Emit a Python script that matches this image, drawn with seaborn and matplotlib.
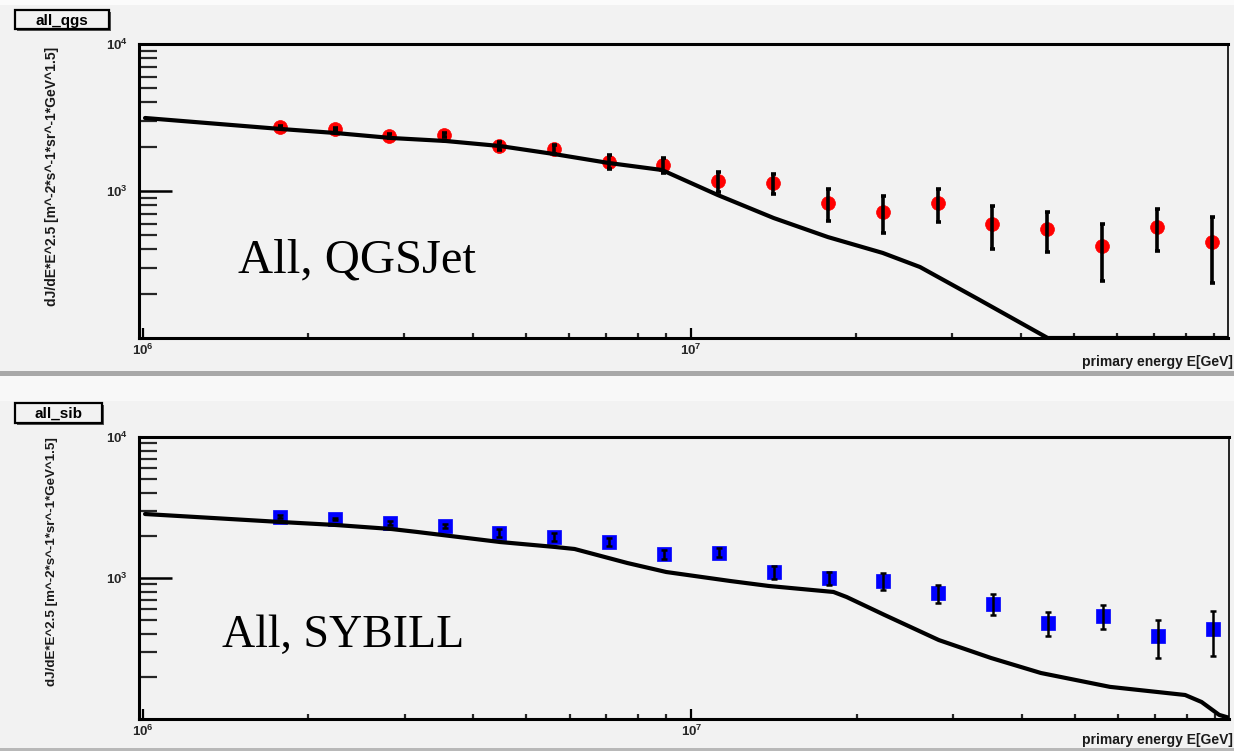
import numpy as np
import pandas as pd
import matplotlib
matplotlib.use("Agg")
import matplotlib.pyplot as plt
import seaborn as sns
from matplotlib.ticker import FixedLocator, FixedFormatter, NullFormatter
from matplotlib.patches import Rectangle

# ---- data -----------------------------------------------------------------
# log10(E / GeV) bin centres of the measured all-particle spectrum
log_energy = [6.25, 6.35, 6.45, 6.55, 6.65, 6.75, 6.85, 6.95, 7.05,
              7.15, 7.25, 7.35, 7.45, 7.55, 7.65, 7.75, 7.85, 7.95]

# QGSJet unfolding: dJ/dE * E^2.5 and its uncertainty
qgs_flux = [2725, 2641, 2367, 2404, 2024, 1931, 1575, 1503, 1170,
            1133, 829, 720, 829, 596, 551, 422, 569, 450]
qgs_err = [60, 60, 70, 70, 130, 140, 170, 180, 180,
           180, 200, 200, 210, 195, 165, 177, 180, 215]

# QGSJet model curve (log10 E, flux)
qgs_model_logE = [6.004, 6.252, 6.352, 6.453, 6.553, 6.651, 6.75, 6.85, 6.947,
                  7.049, 7.151, 7.25, 7.35, 7.418, 7.524, 7.651, 7.98]
qgs_model_flux = [3138, 2641, 2480, 2294, 2188, 2024, 1785, 1551, 1390,
                  939, 655, 486, 379, 304, 184, 100, 100]

# SIBYLL unfolding
sib_flux = [2721, 2620, 2455, 2350, 2085, 1953, 1800, 1480, 1512,
            1097, 1000, 952, 779, 654, 482, 538, 388, 433]
sib_err = [60, 60, 70, 70, 140, 130, 110, 110, 110,
           115, 105, 125, 110, 110, 93, 104, 115, 155]

# SIBYLL model curve
sib_model_logE = [6.004, 6.252, 6.352, 6.453, 6.5, 6.651, 6.752, 6.787, 6.883,
                  6.954, 7.071, 7.141, 7.259, 7.283, 7.352, 7.451, 7.546, 7.637,
                  7.763, 7.9, 7.93, 7.962, 7.98]
sib_model_flux = [2843, 2495, 2376, 2226, 2121, 1800, 1659, 1606, 1278,
                  1103, 952, 878, 796, 733, 547, 363, 271, 212,
                  169, 148, 132, 107, 102]

x_ticklabels = ["$\\mathbf{10^{6}}$", "$\\mathbf{10^{7}}$"]
y_ticklabels = ["$\\mathbf{10^{3}}$", "$\\mathbf{10^{4}}$"]
y_title = "dJ/dE*E^2.5 [m^-2*s^-1*sr^-1*GeV^1.5]"
x_title = "primary energy E[GeV]"

# ---- style ----------------------------------------------------------------
BG = "#f2f2f2"
sns.set_theme(style="white")
plt.rcParams["font.family"] = ["Liberation Sans", "DejaVu Sans"]
plt.rcParams["mathtext.fontset"] = "custom"
plt.rcParams["mathtext.rm"] = "Liberation Sans"
plt.rcParams["mathtext.bf"] = "Liberation Sans:bold"

W, H = 1234, 751
fig = plt.figure(figsize=(W / 100, H / 100), dpi=100, facecolor=BG)


def fx(px):
    return px / W


def fy(py):
    return 1 - py / H


# pad decorations
fig.patches.append(Rectangle((0, fy(5)), 1, 5 / H, transform=fig.transFigure,
                             facecolor="#fbfbfb", edgecolor="none", zorder=0))
fig.patches.append(Rectangle((0, fy(376)), 1, 5 / H, transform=fig.transFigure,
                             facecolor="#a8a8a8", edgecolor="none", zorder=0))
fig.patches.append(Rectangle((0, fy(401)), 1, 25 / H, transform=fig.transFigure,
                             facecolor="#f8f8f8", edgecolor="none", zorder=0))
fig.patches.append(Rectangle((0, fy(751)), 1, 3 / H, transform=fig.transFigure,
                             facecolor="#b8b8b8", edgecolor="none", zorder=0))


def title_box(x0, x1, y0, y1, label):
    fig.patches.append(Rectangle((fx(x0 + 2), fy(y1 + 2)), (x1 - x0) / W, (y1 - y0) / H,
                                 transform=fig.transFigure, facecolor="#555555",
                                 edgecolor="none", zorder=1))
    fig.patches.append(Rectangle((fx(x0), fy(y1)), (x1 - x0) / W, (y1 - y0) / H,
                                 transform=fig.transFigure, facecolor=BG,
                                 edgecolor="black", linewidth=1.6, zorder=2))
    fig.text(fx((x0 + x1) / 2), fy((y0 + y1) / 2 + 1), label, ha="center", va="center",
             fontsize=11, fontweight="bold", color="black", zorder=3)


def make_panel(rect, flux, err, model_logE, model_flux, marker, color, msize,
               elw, cap, big_text, big_xy, big_size):
    ax = fig.add_axes(rect, facecolor=BG)
    ax.set_xscale("log")
    ax.set_yscale("log")

    energy = [10 ** v for v in log_energy]
    model_energy = [10 ** v for v in model_logE]
    pts = pd.DataFrame({"E": energy, "flux": flux})
    curve = pd.DataFrame({"E": model_energy, "flux": model_flux})

    sns.scatterplot(data=pts, x="E", y="flux", ax=ax, marker=marker, s=msize,
                    color=color, edgecolor=color, linewidth=0.5, zorder=2)
    sns.lineplot(data=curve, x="E", y="flux", ax=ax, color="black", linewidth=3.0,
                 sort=False, estimator=None, zorder=3)
    ax.errorbar(energy, flux, yerr=err, fmt="none", ecolor="black",
                elinewidth=elw, capsize=cap, capthick=elw, zorder=4)

    ax.set_xlim(9.84e5, 9.55e7)
    ax.set_ylim(1e2, 1e4)

    ax.xaxis.set_major_locator(FixedLocator([1e6, 1e7]))
    ax.xaxis.set_major_formatter(FixedFormatter(x_ticklabels))
    ax.xaxis.set_minor_locator(FixedLocator([k * 1e6 for k in range(2, 10)] +
                                            [k * 1e7 for k in range(2, 10)]))
    ax.xaxis.set_minor_formatter(NullFormatter())
    ax.yaxis.set_major_locator(FixedLocator([1e3, 1e4]))
    ax.yaxis.set_major_formatter(FixedFormatter(y_ticklabels))
    ax.yaxis.set_minor_locator(FixedLocator([k * 1e2 for k in range(2, 10)] +
                                            [k * 1e3 for k in range(2, 10)]))
    ax.yaxis.set_minor_formatter(NullFormatter())

    ax.tick_params(axis="x", which="major", direction="in", length=7, width=1.6,
                   bottom=True, top=False, labelsize=9.5, pad=3.5, color="black")
    ax.tick_params(axis="x", which="minor", direction="in", length=3.6, width=1.6,
                   bottom=True, top=False)
    ax.tick_params(axis="y", which="major", direction="in", length=24, width=1.8,
                   left=True, right=False, labelsize=9.5, pad=8, color="black")
    ax.tick_params(axis="y", which="minor", direction="in", length=13, width=1.6,
                   left=True, right=False)
    ax.set_xlabel("")
    ax.set_ylabel("")

    for side in ["left", "bottom", "top"]:
        ax.spines[side].set_linewidth(2.2)
        ax.spines[side].set_color("black")
    ax.spines["right"].set_linewidth(1.2)
    ax.spines["right"].set_color("black")

    ax.text(big_xy[0], big_xy[1], big_text, transform=fig.transFigure,
            fontsize=big_size, family=["Liberation Serif", "DejaVu Serif"],
            ha="left", va="baseline", color="black", zorder=5)
    return ax


# upper pad: QGSJet
make_panel([fx(139), fy(338), (1228 - 139) / W, (338 - 44) / H],
           qgs_flux, qgs_err, qgs_model_logE, qgs_model_flux,
           "o", "#ff0000", 100, 2.6, 1.8, "All, QGSJet", (fx(238), fy(272)), 35)
title_box(15, 109, 10, 29, "all_qgs")
fig.text(fx(52), fy(47), y_title, rotation=90, ha="center", va="top",
         fontsize=10, fontweight="bold", color="#1a1a1a")
fig.text(fx(1233), fy(362), x_title, ha="right", va="center",
         fontsize=10, fontweight="bold", color="#1a1a1a")

# lower pad: SIBYLL
make_panel([fx(139), fy(719), (1229 - 139) / W, (719 - 437) / H],
           sib_flux, sib_err, sib_model_logE, sib_model_flux,
           "s", "#0000ff", 88, 1.8, 2.2, "All, SYBILL", (fx(222), fy(647)), 33)
title_box(15, 102, 403, 423, "all_sib")
fig.text(fx(52), fy(437), y_title, rotation=90, ha="center", va="top",
         fontsize=9.6, fontweight="bold", color="#1a1a1a")
fig.text(fx(1233), fy(740), x_title, ha="right", va="center",
         fontsize=10, fontweight="bold", color="#1a1a1a")

fig.savefig("out.png", dpi=100, facecolor=BG)
